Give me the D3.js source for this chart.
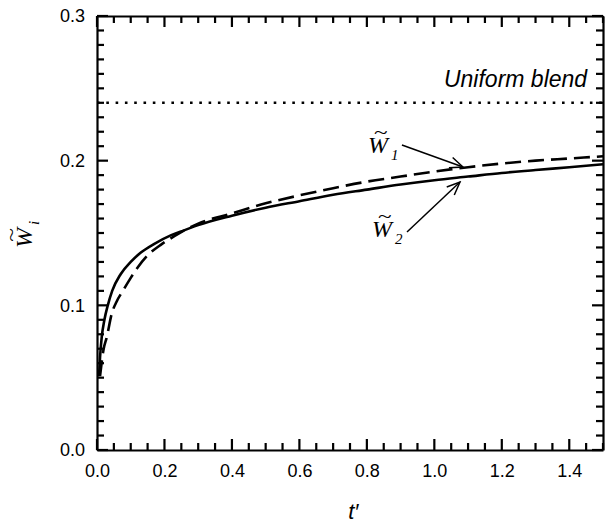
<!DOCTYPE html>
<html>
<head>
<meta charset="utf-8">
<script src="https://cdn.jsdelivr.net/npm/d3@7"></script>
<style>
  body { margin: 0; background: #fff; }
  svg { display: block; }
  .axis path { stroke: #000; stroke-width: 2.2; }
  .axis text { font-family: "Liberation Sans", Arial, sans-serif; font-size: 18px; fill: #000; }
</style>
</head>
<body>
<svg id="chart"></svg>
<script>
// W2 (solid) curve
const t2 = [0.006, 0.009, 0.014, 0.022, 0.032, 0.045, 0.07, 0.1, 0.13, 0.17, 0.22, 0.26, 0.3,
            0.4, 0.5, 0.6, 0.7, 0.8, 0.9, 1.0, 1.1, 1.2, 1.3, 1.4, 1.5];
const w2 = [0.051, 0.064, 0.078, 0.090, 0.100, 0.110, 0.1215, 0.130, 0.1365, 0.1425, 0.1485, 0.152, 0.1555,
            0.162, 0.1675, 0.172, 0.1765, 0.180, 0.1835, 0.1865, 0.189, 0.1915, 0.1935, 0.1955, 0.1975];

// W1 (dashed) curve
const t1 = [0.009, 0.019, 0.029, 0.044, 0.058, 0.078, 0.1, 0.12, 0.15, 0.19, 0.22, 0.26, 0.3,
            0.4, 0.5, 0.6, 0.7, 0.8, 0.9, 1.0, 1.1, 1.2, 1.3, 1.4, 1.5];
const w1 = [0.051, 0.069, 0.078, 0.0945, 0.1025, 0.1105, 0.119, 0.126, 0.1345, 0.142, 0.1465, 0.152, 0.1565,
            0.1635, 0.1705, 0.176, 0.181, 0.1855, 0.189, 0.1925, 0.1955, 0.198, 0.2, 0.2015, 0.203];

const uniformBlend = 0.24;

const xMajor = [0, 0.2, 0.4, 0.6, 0.8, 1.0, 1.2, 1.4];
const yMajor = [0, 0.1, 0.2, 0.3];

const width = 605, height = 523;
const margin = {top: 16, right: 2, bottom: 73, left: 97};
const w = width - margin.left - margin.right;
const h = height - margin.top - margin.bottom;

const svg = d3.select('#chart')
  .attr('width', width)
  .attr('height', height);

const g = svg.append('g')
  .attr('transform', `translate(${margin.left},${margin.top})`);

const x = d3.scaleLinear().domain([0, 1.5]).range([0, w]);
const y = d3.scaleLinear().domain([0, 0.3]).range([h, 0]);

const xMinor = d3.range(0, 1.5001, 0.05);
const yMinor = d3.range(0, 0.3001, 0.01);
const isMajorX = v => Math.abs(v / 0.2 - Math.round(v / 0.2)) < 1e-6;
const isMajorY = v => Math.abs(v / 0.1 - Math.round(v / 0.1)) < 1e-6;

// axes for the frame and labels
g.append('g').attr('class', 'axis').attr('transform', `translate(0,${h})`)
  .call(d3.axisBottom(x).tickValues(xMajor).tickSize(0).tickPadding(14).tickFormat(d3.format('.1f')));
g.append('g').attr('class', 'axis')
  .call(d3.axisTop(x).tickValues([]).tickSize(0));
g.append('g').attr('class', 'axis')
  .call(d3.axisLeft(y).tickValues(yMajor).tickSize(0).tickPadding(12).tickFormat(d3.format('.1f')));
g.append('g').attr('class', 'axis').attr('transform', `translate(${w},0)`)
  .call(d3.axisRight(y).tickValues([]).tickSize(0));

// inward ticks on all four sides
const tickG = g.append('g')
  .attr('stroke', '#000')
  .attr('stroke-width', 2.2);
tickG.selectAll('line.xb').data(xMinor).join('line')
  .attr('x1', d => x(d)).attr('x2', d => x(d))
  .attr('y1', h).attr('y2', d => h - (isMajorX(d) ? 11 : 7));
tickG.selectAll('line.xt').data(xMinor).join('line')
  .attr('x1', d => x(d)).attr('x2', d => x(d))
  .attr('y1', 0).attr('y2', d => isMajorX(d) ? 11 : 7);
tickG.selectAll('line.yl').data(yMinor).join('line')
  .attr('y1', d => y(d)).attr('y2', d => y(d))
  .attr('x1', 0).attr('x2', d => isMajorY(d) ? 11 : 7);
tickG.selectAll('line.yr').data(yMinor).join('line')
  .attr('y1', d => y(d)).attr('y2', d => y(d))
  .attr('x1', w).attr('x2', d => w - (isMajorY(d) ? 11 : 7));

// uniform blend dotted line
g.append('line')
  .attr('x1', x(0)).attr('x2', x(1.5))
  .attr('y1', y(uniformBlend)).attr('y2', y(uniformBlend))
  .attr('stroke', '#000')
  .attr('stroke-width', 2.4)
  .attr('stroke-dasharray', '2.6,6.7');

const line = d3.line()
  .x(d => x(d[0]))
  .y(d => y(d[1]))
  .curve(d3.curveMonotoneX);

g.append('path')
  .datum(t2.map((t, i) => [t, w2[i]]))
  .attr('d', line)
  .attr('fill', 'none')
  .attr('stroke', '#000')
  .attr('stroke-width', 2.6);

g.append('path')
  .datum(t1.map((t, i) => [t, w1[i]]))
  .attr('d', line)
  .attr('fill', 'none')
  .attr('stroke', '#000')
  .attr('stroke-width', 2.6)
  .attr('stroke-dasharray', '16,7');

// arrow marker
svg.append('defs').append('marker')
  .attr('id', 'arrow')
  .attr('viewBox', '-14 -7 16 14')
  .attr('refX', 0).attr('refY', 0)
  .attr('markerWidth', 16).attr('markerHeight', 14)
  .attr('markerUnits', 'userSpaceOnUse')
  .attr('orient', 'auto')
  .append('path')
  .attr('d', 'M-13,-5.5 L0,0 L-13,5.5')
  .attr('fill', 'none')
  .attr('stroke', '#000')
  .attr('stroke-width', 1.5);

const arrows = [
  {from: [0.904, 0.2108], to: [1.085, 0.1956]},
  {from: [0.919, 0.1507], to: [1.076, 0.1852]}
];
g.selectAll('.arrow')
  .data(arrows)
  .join('line')
  .attr('class', 'arrow')
  .attr('x1', d => x(d.from[0])).attr('y1', d => y(d.from[1]))
  .attr('x2', d => x(d.to[0])).attr('y2', d => y(d.to[1]))
  .attr('stroke', '#000')
  .attr('stroke-width', 1.5)
  .attr('marker-end', 'url(#arrow)');

// W~ labels: W, wide tilde above, subscript
const serif = '"Liberation Serif", "Times New Roman", serif';
function wLabel(sel, sub) {
  sel.attr('font-family', serif).attr('font-style', 'italic');
  sel.append('text').attr('x', 0).attr('y', 0).attr('font-size', 24).text('W');
  sel.append('text').attr('x', 23).attr('y', 7).attr('font-size', 15).text(sub);
  sel.append('text')
    .attr('transform', 'translate(13,-14) scale(1.4,1)')
    .attr('text-anchor', 'middle')
    .attr('font-style', 'normal')
    .attr('font-size', 18)
    .text('~');
}
g.append('g')
  .attr('transform', `translate(${x(0.803)},${y(0.205)})`)
  .call(wLabel, '1');
g.append('g')
  .attr('transform', `translate(${x(0.815)},${y(0.147)})`)
  .call(wLabel, '2');

g.append('text')
  .attr('x', x(1.453)).attr('y', y(0.251))
  .attr('text-anchor', 'end')
  .attr('font-family', '"Liberation Sans", Arial, sans-serif')
  .attr('font-style', 'italic')
  .attr('font-size', 23)
  .text('Uniform blend');

// axis titles
svg.append('text')
  .attr('x', margin.left + x(0.76)).attr('y', 519)
  .attr('text-anchor', 'middle')
  .attr('font-family', '"Liberation Sans", Arial, sans-serif')
  .attr('font-style', 'italic')
  .attr('font-size', 22)
  .text('t\u2032');

svg.append('g')
  .attr('transform', 'translate(32,248) rotate(-90)')
  .call(wLabel, 'i');
</script>
</body>
</html>
